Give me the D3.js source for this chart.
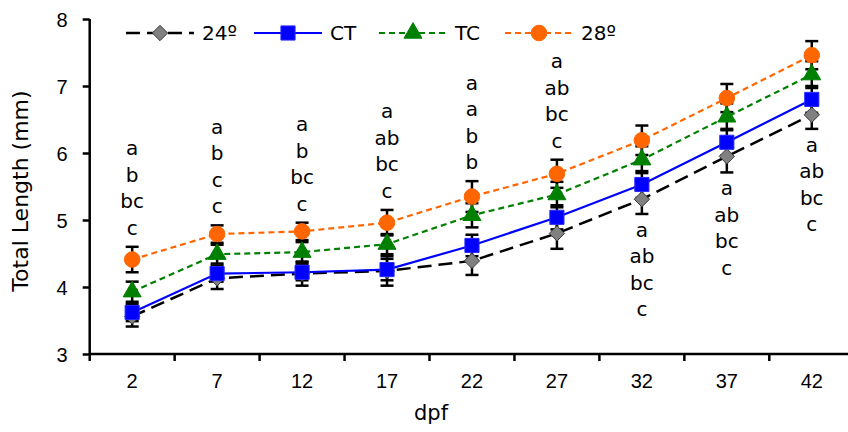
<!DOCTYPE html>
<html>
<head>
<meta charset="utf-8">
<script src="https://cdn.jsdelivr.net/npm/d3@7"></script>
<style>
  html, body { margin: 0; padding: 0; background: #fff; }
  svg { display: block; font-family: "DejaVu Sans", Verdana, sans-serif; }
</style>
</head>
<body>
<svg id="chart" width="848" height="432"></svg>
<script>
// ---- data ----
const categories = ["2", "7", "12", "17", "22", "27", "32", "37", "42"];
const seriesNames = ["24º", "CT", "TC", "28º"];
const values24 = [3.56, 4.13, 4.20, 4.24, 4.39, 4.80, 5.31, 5.95, 6.57];
const valuesCT = [3.62, 4.20, 4.22, 4.26, 4.62, 5.04, 5.53, 6.16, 6.80];
const valuesTC = [3.93, 4.49, 4.52, 4.64, 5.07, 5.38, 5.90, 6.54, 7.17];
const values28 = [4.41, 4.79, 4.83, 4.96, 5.35, 5.69, 6.19, 6.82, 7.46];
const err24 = [0.15, 0.16, 0.18, 0.22, 0.21, 0.23, 0.22, 0.24, 0.21];
const errCT = [0.13, 0.12, 0.12, 0.16, 0.16, 0.18, 0.20, 0.20, 0.20];
const errTC = [0.15, 0.14, 0.15, 0.15, 0.18, 0.19, 0.20, 0.20, 0.20];
const err28 = [0.19, 0.13, 0.13, 0.19, 0.23, 0.21, 0.22, 0.21, 0.21];
const yTicks = [3, 4, 5, 6, 7, 8];
const letters = [
  ["a", "b", "bc", "c"],
  ["a", "b", "c", "c"],
  ["a", "b", "bc", "c"],
  ["a", "ab", "bc", "c"],
  ["a", "a", "b", "b"],
  ["a", "ab", "bc", "c"],
  ["a", "ab", "bc", "c"],
  ["a", "ab", "bc", "c"],
  ["a", "ab", "bc", "c"]
];
const letterSide = ["above", "above", "above", "above", "above", "above", "below", "below", "below"];
const xTitle = "dpf";
const yTitle = "Total Length (mm)";

// ---- layout ----
const W = 848, H = 432;
const left = 89.7, step = 84.95;
const svg = d3.select("#chart");

const x = d3.scaleBand().domain(categories).range([left, left + step * categories.length]).paddingInner(0).paddingOuter(0);
const y = d3.scaleLinear().domain([3, 8]).range([354, 19]);
const cx = c => x(c) + x.bandwidth() / 2;

const styles = [
  { color: "#000000", dash: "14,7", width: 2.5, marker: "diamond", fill: "#808080", stroke: "#3a3a3a" },
  { color: "#0000FF", dash: null, width: 2.2, marker: "square", fill: "#0000FF", stroke: "#2a2aff" },
  { color: "#008000", dash: "6,4", width: 2.2, marker: "triangle", fill: "#008000", stroke: "#008000" },
  { color: "#FF6600", dash: "6,4", width: 2.2, marker: "circle", fill: "#FF6600", stroke: "#FF6600" }
];
const series = [
  { name: seriesNames[0], vals: values24, errs: err24, st: styles[0] },
  { name: seriesNames[1], vals: valuesCT, errs: errCT, st: styles[1] },
  { name: seriesNames[2], vals: valuesTC, errs: errTC, st: styles[2] },
  { name: seriesNames[3], vals: values28, errs: err28, st: styles[3] }
];

const symbolFor = m => {
  if (m === "diamond") return d3.symbol().type(d3.symbolDiamond2).size(150);
  if (m === "square") return d3.symbol().type(d3.symbolSquare).size(200);
  if (m === "triangle") return d3.symbol().type(d3.symbolTriangle).size(140);
  return d3.symbol().type(d3.symbolCircle).size(190);
};

// ---- axes ----
const yAxis = d3.axisLeft(y).tickValues(yTicks).tickSize(7).tickPadding(15).tickFormat(d3.format("d"));
const gy = svg.append("g").attr("transform", `translate(${left},0)`).call(yAxis);
gy.select(".domain").remove();
gy.selectAll(".tick line").attr("stroke", "#000").attr("stroke-width", 2.5);
gy.selectAll(".tick text").attr("font-size", 20).attr("fill", "#000").attr("dy", "0.36em");

const xAxis = d3.axisBottom(x).tickSize(0).tickPadding(20);
const gx = svg.append("g").attr("transform", `translate(0,${y(3)})`).call(xAxis);
gx.select(".domain").remove();
gx.selectAll(".tick text").attr("font-size", 20).attr("fill", "#000");

// category boundary ticks
svg.append("g").selectAll("line").data(categories).join("line")
  .attr("x1", d => x(d)).attr("x2", d => x(d))
  .attr("y1", y(3)).attr("y2", y(3) + 7)
  .attr("stroke", "#000").attr("stroke-width", 2.5);

// axis lines
svg.append("line").attr("x1", left).attr("x2", W).attr("y1", y(3)).attr("y2", y(3)).attr("stroke", "#000").attr("stroke-width", 2.5);
svg.append("line").attr("x1", left).attr("x2", left).attr("y1", y(8)).attr("y2", y(3) + 1).attr("stroke", "#000").attr("stroke-width", 2.5);

// titles
svg.append("text").attr("x", 431).attr("y", 420).attr("text-anchor", "middle").attr("font-size", 21).attr("fill", "#000").text(xTitle);
svg.append("text").attr("transform", "translate(28,191) rotate(-90)").attr("text-anchor", "middle").attr("font-size", 22).attr("fill", "#000").text(yTitle);

// ---- error bars ----
const gErr = svg.append("g");
series.forEach(s => {
  categories.forEach((c, i) => {
    const xc = cx(c), hi = y(s.vals[i] + s.errs[i]), lo = y(s.vals[i] - s.errs[i]);
    gErr.append("line").attr("x1", xc).attr("x2", xc).attr("y1", hi).attr("y2", lo).attr("stroke", "#000").attr("stroke-width", 2.5);
    [hi, lo].forEach(yy => gErr.append("line").attr("x1", xc - 6.5).attr("x2", xc + 6.5).attr("y1", yy).attr("y2", yy).attr("stroke", "#000").attr("stroke-width", 2.5));
  });
});

// ---- lines ----
const line = d3.line().x((d, i) => cx(categories[i])).y(d => y(d));
series.forEach(s => {
  svg.append("path").datum(s.vals).attr("d", line).attr("fill", "none")
    .attr("stroke", s.st.color).attr("stroke-width", s.st.width)
    .attr("stroke-dasharray", s.st.dash);
});

// ---- markers ----
series.forEach(s => {
  const sym = symbolFor(s.st.marker);
  svg.append("g").selectAll("path").data(s.vals).join("path")
    .attr("d", sym)
    .attr("transform", (d, i) => `translate(${cx(categories[i])},${y(d)})`)
    .attr("fill", s.st.fill).attr("stroke", s.st.stroke).attr("stroke-width", 1);
});

// ---- letter annotations ----
const lineH = 26.5;
const gLet = svg.append("g").attr("font-size", 20).attr("fill", "#000").attr("text-anchor", "middle");
categories.forEach((c, i) => {
  const ls = letters[i];
  if (letterSide[i] === "above") {
    const top = y(values28[i] + err28[i]) - 12;
    ls.forEach((t, k) => {
      gLet.append("text").attr("x", cx(c)).attr("y", top - (ls.length - 1 - k) * lineH).text(t);
    });
  } else {
    const bot = y(values24[i] - err24[i]) + 23;
    ls.forEach((t, k) => {
      gLet.append("text").attr("x", cx(c)).attr("y", bot + k * lineH).text(t);
    });
  }
});

// ---- legend ----
const legendX = [126, 254, 379, 505];
const legY = 33, legLen = 68;
const gLeg = svg.append("g");
series.forEach((s, i) => {
  const x0 = legendX[i];
  gLeg.append("line").attr("x1", x0).attr("x2", x0 + legLen).attr("y1", legY).attr("y2", legY)
    .attr("stroke", s.st.color).attr("stroke-width", s.st.width).attr("stroke-dasharray", s.st.dash);
  gLeg.append("path").attr("d", symbolFor(s.st.marker)).attr("transform", `translate(${x0 + legLen / 2},${legY})`)
    .attr("fill", s.st.fill).attr("stroke", s.st.stroke).attr("stroke-width", 1);
  gLeg.append("text").attr("x", x0 + legLen + 8).attr("y", legY).attr("dy", "0.36em")
    .attr("font-size", 20).attr("fill", "#000").text(s.name);
});
</script>
</body>
</html>
